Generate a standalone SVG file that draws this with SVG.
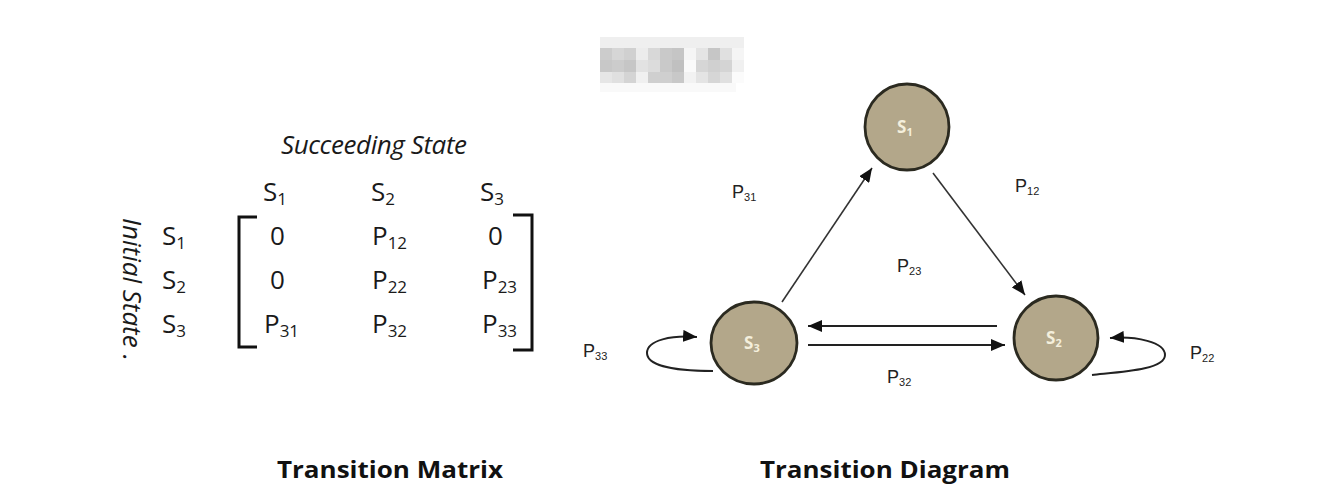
<svg xmlns="http://www.w3.org/2000/svg" width="1321" height="501" viewBox="0 0 1321 501">
  <style>
    .mx { font-family: "Open Sans", "Liberation Sans", sans-serif; font-size: 26px; fill: #1a1a1a; }
    .sub { font-size: 17px; }
    .lbl { font-family: "Liberation Sans", "Open Sans", sans-serif; font-size: 18px; fill: #222; }
    .lsub { font-size: 11px; }
    .node { fill: #b3a78a; stroke: #2b2a20; stroke-width: 2.8; }
    .ntxt { font-family: "Open Sans", "Liberation Sans", sans-serif; font-size: 17px; font-weight: 700; fill: #f4efdc; }
    .nsub { font-size: 11px; }
    .edge { fill: none; stroke: #333; stroke-width: 1.6; }
    .edge2 { fill: none; stroke: #222; stroke-width: 2; }
    .title { font-family: "Open Sans", "Liberation Sans", sans-serif; font-size: 23px; font-weight: 700; fill: #111; }
    .br { fill: none; stroke: #111; stroke-width: 3; }
  </style>
  <defs>
    <marker id="ah" markerUnits="userSpaceOnUse" markerWidth="14" markerHeight="12" viewBox="0 0 14 12" refX="14" refY="6" orient="auto">
      <path d="M0,0 L14,6 L0,12 z" fill="#111"/>
    </marker>
  </defs>
  <rect width="1321" height="501" fill="#ffffff"/>

  <!-- blurred watermark -->
  <g id="watermark">
    <rect x="600" y="37" width="144" height="11" fill="#efefef"/>
    <rect x="600" y="48" width="12" height="12" fill="#cccccc"/>
    <rect x="612" y="48" width="12" height="12" fill="#d6d6d6"/>
    <rect x="624" y="48" width="12" height="12" fill="#d0d0d0"/>
    <rect x="636" y="48" width="12" height="12" fill="#ececec"/>
    <rect x="648" y="48" width="12" height="12" fill="#d8d8d8"/>
    <rect x="660" y="48" width="12" height="12" fill="#c9c9c9"/>
    <rect x="672" y="48" width="12" height="12" fill="#c5c5c5"/>
    <rect x="684" y="48" width="12" height="12" fill="#f5f5f5"/>
    <rect x="696" y="48" width="12" height="12" fill="#e4e4e4"/>
    <rect x="708" y="48" width="12" height="12" fill="#c6c6c6"/>
    <rect x="720" y="48" width="12" height="12" fill="#e0e0e0"/>
    <rect x="732" y="48" width="12" height="12" fill="#f5f5f5"/>
    <rect x="600" y="60" width="12" height="12" fill="#c8c8c8"/>
    <rect x="612" y="60" width="12" height="12" fill="#cccccc"/>
    <rect x="624" y="60" width="12" height="12" fill="#c6c6c6"/>
    <rect x="636" y="60" width="12" height="12" fill="#e2e2e2"/>
    <rect x="648" y="60" width="12" height="12" fill="#dcdcdc"/>
    <rect x="660" y="60" width="12" height="12" fill="#c9c9c9"/>
    <rect x="672" y="60" width="12" height="12" fill="#c0c0c0"/>
    <rect x="684" y="60" width="12" height="12" fill="#fafafa"/>
    <rect x="696" y="60" width="12" height="12" fill="#d6d6d6"/>
    <rect x="708" y="60" width="12" height="12" fill="#d0d0d0"/>
    <rect x="720" y="60" width="12" height="12" fill="#d4d4d4"/>
    <rect x="732" y="60" width="12" height="12" fill="#f0f0f0"/>
    <rect x="600" y="72" width="12" height="11" fill="#e6e6e6"/>
    <rect x="612" y="72" width="12" height="11" fill="#e0e0e0"/>
    <rect x="624" y="72" width="12" height="11" fill="#d4d4d4"/>
    <rect x="636" y="72" width="12" height="11" fill="#f0f0f0"/>
    <rect x="648" y="72" width="12" height="11" fill="#cfcfcf"/>
    <rect x="660" y="72" width="12" height="11" fill="#cfcfcf"/>
    <rect x="672" y="72" width="12" height="11" fill="#c8c8c8"/>
    <rect x="684" y="72" width="12" height="11" fill="#f2f2f2"/>
    <rect x="696" y="72" width="12" height="11" fill="#e4e4e4"/>
    <rect x="708" y="72" width="12" height="11" fill="#d6d6d6"/>
    <rect x="720" y="72" width="12" height="11" fill="#e0e0e0"/>
    <rect x="732" y="72" width="12" height="11" fill="#fbfbfb"/>
    <rect x="600" y="83" width="136" height="9" fill="#f9f9f9"/>
  </g>

  <!-- Transition matrix -->
  <g id="matrix">
    <text class="mx" x="281" y="154" font-size="22" font-style="italic" textLength="186">Succeeding State</text>
    <text class="mx" x="263" y="201">S<tspan class="sub" dy="4">1</tspan></text>
    <text class="mx" x="371" y="201">S<tspan class="sub" dy="4">2</tspan></text>
    <text class="mx" x="480" y="201">S<tspan class="sub" dy="4">3</tspan></text>

    <text class="mx" transform="translate(123,218) rotate(90)" font-size="22" font-style="italic">Initial State .</text>
    <text class="mx" x="162" y="245">S<tspan class="sub" dy="4">1</tspan></text>
    <text class="mx" x="162" y="289">S<tspan class="sub" dy="4">2</tspan></text>
    <text class="mx" x="162" y="333">S<tspan class="sub" dy="4">3</tspan></text>

    <path class="br" d="M257,217 L239,217 L239,347 L257,347"/>
    <path class="br" d="M513,215 L532,215 L532,350 L513,350"/>

    <text class="mx" x="270" y="245">0</text>
    <text class="mx" x="372" y="245">P<tspan class="sub" dy="4">12</tspan></text>
    <text class="mx" x="488" y="245">0</text>
    <text class="mx" x="270" y="289">0</text>
    <text class="mx" x="372" y="289">P<tspan class="sub" dy="4">22</tspan></text>
    <text class="mx" x="482" y="289">P<tspan class="sub" dy="4">23</tspan></text>
    <text class="mx" x="264" y="333">P<tspan class="sub" dy="4">31</tspan></text>
    <text class="mx" x="372" y="333">P<tspan class="sub" dy="4">32</tspan></text>
    <text class="mx" x="482" y="333">P<tspan class="sub" dy="4">33</tspan></text>

    <text class="title" x="277" y="478" textLength="226" lengthAdjust="spacingAndGlyphs">Transition Matrix</text>
  </g>

  <!-- Connectors -->
  <g id="connectors">
    <line class="edge" x1="782" y1="302" x2="872" y2="168" marker-end="url(#ah)"/>
    <line class="edge" x1="933" y1="173" x2="1025" y2="295" marker-end="url(#ah)"/>
    <line class="edge2" x1="997" y1="326" x2="808" y2="326" marker-end="url(#ah)"/>
    <line class="edge2" x1="808" y1="345" x2="1005" y2="345" marker-end="url(#ah)"/>
    <path class="edge2" d="M713,371 C690,371 647,369 647,353 C647,340 672,335 697,337" marker-end="url(#ah)"/>
    <path class="edge2" d="M1092,375 C1120,372 1165,370 1165,355 C1165,342 1136,336 1110,338" marker-end="url(#ah)"/>
  </g>

  <!-- Edge labels -->
  <g id="edge-labels">
    <text class="lbl" x="732" y="198">P<tspan class="lsub" dy="3">31</tspan></text>
    <text class="lbl" x="1015" y="192">P<tspan class="lsub" dy="3">12</tspan></text>
    <text class="lbl" x="897" y="272">P<tspan class="lsub" dy="3">23</tspan></text>
    <text class="lbl" x="887" y="383">P<tspan class="lsub" dy="3">32</tspan></text>
    <text class="lbl" x="583" y="357">P<tspan class="lsub" dy="3">33</tspan></text>
    <text class="lbl" x="1190" y="359">P<tspan class="lsub" dy="3">22</tspan></text>
  </g>

  <!-- Nodes -->
  <g id="node-s1">
    <ellipse class="node" cx="907" cy="127" rx="42" ry="43"/>
    <text class="ntxt" x="897" y="133">S<tspan class="nsub" dy="3">1</tspan></text>
  </g>
  <g id="node-s2">
    <ellipse class="node" cx="1056" cy="338" rx="42" ry="42"/>
    <text class="ntxt" x="1046" y="344">S<tspan class="nsub" dy="3">2</tspan></text>
  </g>
  <g id="node-s3">
    <ellipse class="node" cx="754" cy="343" rx="43" ry="41"/>
    <text class="ntxt" x="744" y="349">S<tspan class="nsub" dy="3">3</tspan></text>
  </g>

  <text class="title" x="760" y="478" textLength="250" lengthAdjust="spacingAndGlyphs">Transition Diagram</text>
</svg>
